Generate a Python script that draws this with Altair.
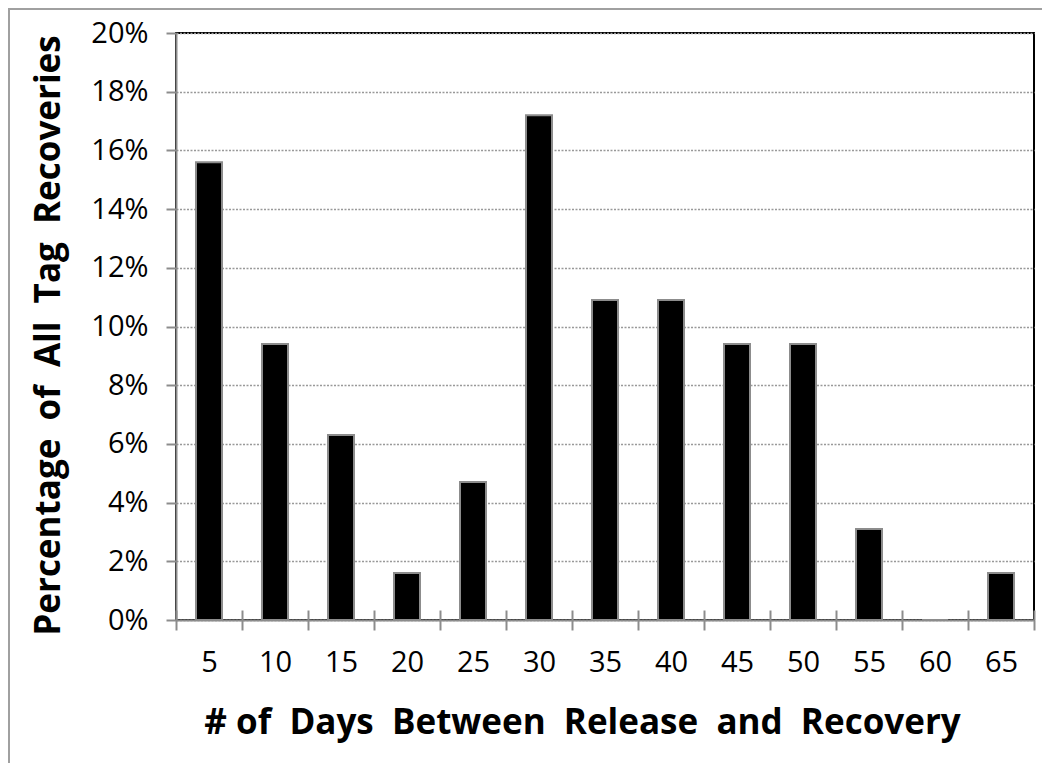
import altair as alt
import pandas as pd

days = [5, 10, 15, 20, 25, 30, 35, 40, 45, 50, 55, 60, 65]
pct = [0.156, 0.094, 0.063, 0.016, 0.047, 0.172, 0.109, 0.109, 0.094, 0.094, 0.031, 0.0, 0.016]
y_ticks = [0, 0.02, 0.04, 0.06, 0.08, 0.10, 0.12, 0.14, 0.16, 0.18, 0.20]

df = pd.DataFrame({"days": [str(d) for d in days], "pct": pct})
order = [str(d) for d in days]

FONT = "Open Sans"
GRAY = "#8c8c8c"

xscale = alt.Scale(paddingInner=0, paddingOuter=0)
yscale = alt.Scale(domain=[0, 0.2])

bars = alt.Chart(df).mark_bar(
    size=26, color="black", stroke=GRAY, strokeWidth=2
).encode(
    x=alt.X("days:N", sort=order, scale=xscale,
            title="# of\u00a0 Days\u00a0 Between\u00a0 Release\u00a0 and\u00a0 Recovery",
            axis=alt.Axis(orient="bottom", tickBand="extent", tickSize=10, tickColor=GRAY,
                          tickWidth=2, domainColor=GRAY, domainWidth=2,
                          labelAngle=0, labelFont=FONT, labelFontSize=29, labelColor="black",
                          labelPadding=18, grid=False,
                          titleFont=FONT, titleFontSize=35, titleFontWeight="bold",
                          titleColor="black", titleX=406, titleY=113,
                          titleBaseline="alphabetic", titleAlign="center", titleAnchor=None)),
    y=alt.Y("pct:Q", scale=yscale,
            title="Percentage\u00a0 of\u00a0 All\u00a0 Tag\u00a0 Recoveries",
            axis=alt.Axis(values=y_ticks, format=".0%", tickSize=10, tickColor=GRAY,
                          tickWidth=2, domainColor=GRAY, domainWidth=2,
                          labelFont=FONT, labelFontSize=29, labelColor="black",
                          labelPadding=18,
                          grid=True, gridColor="#999999", gridDash=[2, 1.5], gridWidth=1.5,
                          titleFont=FONT, titleFontSize=35, titleFontWeight="bold",
                          titleColor="black", titleX=-117, titleY=302,
                          titleBaseline="alphabetic", titleAlign="center", titleAngle=270)),
)

upper_ticks = alt.Chart(df).mark_bar(opacity=0).encode(
    x=alt.X("days:N", sort=order, scale=xscale,
            axis=alt.Axis(orient="bottom", offset=-10, tickBand="extent", tickSize=10,
                          tickColor=GRAY, tickWidth=2, domain=False, labels=False,
                          title=None, grid=False)),
)

# outer chart frame (left and top edges, as in the reference)
frame_left = alt.Chart().mark_rule(color="#a0a0a0", strokeWidth=2, clip=False).encode(
    x=alt.value(-167), y=alt.value(-25), y2=alt.value(760)
)
frame_top = alt.Chart().mark_rule(color="#a0a0a0", strokeWidth=2, clip=False).encode(
    x=alt.value(-167), x2=alt.value(880), y=alt.value(-24)
)

chart = alt.layer(bars, upper_ticks, frame_left, frame_top).resolve_axis(x="independent").properties(
    width=858, height=587,
    autosize=alt.AutoSizeParams(type="none"),
    padding={"left": 168, "top": 25, "right": 8, "bottom": 150},
    background="white",
).configure_view(stroke="black", strokeWidth=2)

chart.save("out.html", embed_options={"renderer": "svg", "actions": False})
